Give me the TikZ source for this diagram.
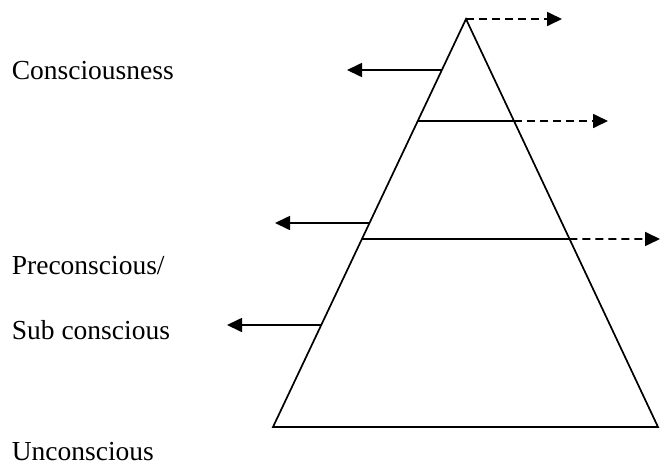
\documentclass[tikz,border=0pt]{standalone}
\usepackage{fontspec}
\setmainfont{Liberation Serif}
\usetikzlibrary{arrows.meta,calc}

\begin{document}
\begin{tikzpicture}[x=1pt, y=-1pt, line width=1.7pt,
    >={Triangle[length=15pt,width=14pt]},
    layer/.style={anchor=base west, inner sep=0pt, font=\fontsize{27.5}{32}\selectfont},
    outflow/.style={->, dash pattern=on 8pt off 5pt}]

    \useasboundingbox (0,0) rectangle (661,474);

    % 三角形的三个顶点
    \coordinate (A) at (466,19);
    \coordinate (BL) at (273,427);
    \coordinate (BR) at (658,427);

    % 1. 三角形
    \draw[line join=miter] (A) -- (BL) -- (BR) -- cycle;

    % 2. 两条水平分层线
    \coordinate (L1) at ($(A)!0.25!(BL)$);
    \coordinate (R1) at ($(A)!0.25!(BR)$);
    \coordinate (L2) at ($(A)!0.539!(BL)$);
    \coordinate (R2) at ($(A)!0.539!(BR)$);
    \draw (L1) -- (R1);
    \draw (L2) -- (R2);

    % 3. 向右的虚线箭头
    \coordinate (T0) at (562,19);
    \coordinate (T1) at (608,121);
    \coordinate (T2) at (660,239);
    \draw[outflow] (A) -- (T0);
    \draw[outflow] (R1) -- (T1);
    \draw[outflow] (R2) -- (T2);

    % 4. 向左的实线箭头
    \coordinate (E1) at ($(A)!0.125!(BL)$);
    \coordinate (E2) at ($(A)!0.5!(BL)$);
    \coordinate (E3) at ($(A)!0.75!(BL)$);
    \coordinate (S1) at (347,70);
    \coordinate (S2) at (275,223);
    \coordinate (S3) at (227,325);
    \draw[->] (E1) -- (S1);
    \draw[->] (E2) -- (S2);
    \draw[->] (E3) -- (S3);

    % 5. 文字标签
    \node[layer] (con) at (11,79) {Consciousness};
    \node[layer] (pre) at (11,274) {Preconscious/};
    \node[layer] (sub) at (11,339) {Sub conscious};
    \node[layer] (unc) at (11,460) {Unconscious};

\end{tikzpicture}
\end{document}
